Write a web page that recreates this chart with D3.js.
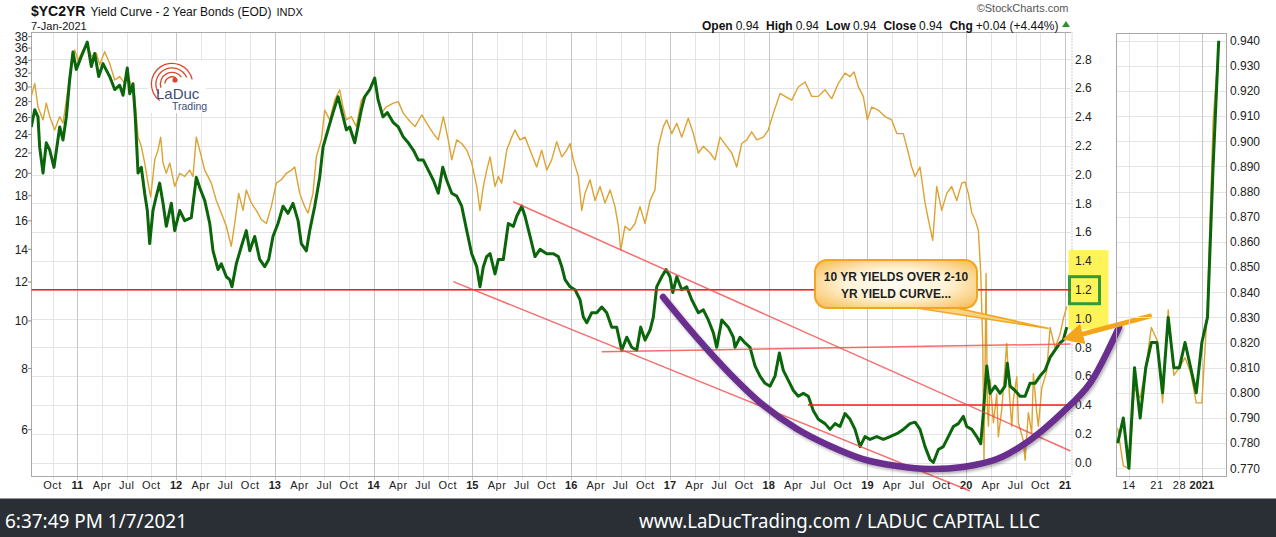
<!DOCTYPE html>
<html>
<head>
	<title>$YC2YR Yield Curve - 2 Year Bonds</title>
	<script src="https://d3js.org/d3.v7.min.js"></script>
	<style>
	body{
		margin: 0;
		background: #ffffff;
		font-family: "Liberation Sans", Arial, Helvetica, sans-serif;
	}
	.grid{ stroke: #e4e4e4; stroke-width: 1; shape-rendering: crispEdges; }
	.grid.year{ stroke: #c6c6c6; }
	.frame{ fill: none; stroke: #a9a9a9; shape-rendering: crispEdges; }
	.lbl{ font-size: 12px; fill: #222222; }
	.xlbl{ font-size: 11px; fill: #222222; letter-spacing: 0.5px; }
	.xlbl.year{ font-weight: bold; letter-spacing: 0; }
	.spread{ fill: none; stroke: #0b650b; stroke-width: 3; stroke-linejoin: round; }
	.tnx{ fill: none; stroke: #dca232; stroke-width: 1.4; stroke-linejoin: round; }
	.redline{ stroke: #ff1a1a; stroke-width: 1.5; }
	.redline.soft{ stroke: #f24a4a; stroke-opacity: 0.8; }
	.foot{ fill: #ffffff; font-family: "Noto Sans", "Open Sans", sans-serif; font-size: 20px; }
	</style>
</head>
<body>
	<div id="chart"></div>

	<script>
		// 2-10 spread ($YC2YR, right axis) - decimal year / value
		var spreadYears = [2010.534,2010.569,2010.602,2010.619,2010.653,2010.686,2010.721,2010.764,2010.822,2010.855,2010.889,2010.923,2010.956,2010.990,
			2011.041,2011.101,2011.142,2011.176,2011.217,2011.260,2011.328,2011.379,2011.429,2011.463,2011.506,2011.531,2011.564,2011.587,2011.615,2011.648,2011.682,2011.709,2011.733,2011.766,2011.800,2011.834,2011.868,2011.901,2011.952,2011.986,
			2012.037,2012.087,2012.154,2012.205,2012.239,2012.290,2012.341,2012.374,2012.425,2012.458,2012.509,2012.543,2012.566,2012.610,2012.661,2012.711,2012.746,2012.796,2012.847,2012.897,2012.938,2012.981,
			2013.032,2013.083,2013.133,2013.184,2013.235,2013.268,2013.319,2013.353,2013.404,2013.454,2013.488,2013.538,2013.589,2013.640,2013.673,2013.724,2013.758,2013.809,2013.876,2013.910,2013.961,
			2014.011,2014.045,2014.095,2014.139,2014.200,2014.250,2014.301,2014.351,2014.402,2014.453,2014.503,2014.554,2014.605,2014.655,2014.700,2014.740,2014.791,2014.842,2014.892,2014.943,2014.993,
			2015.044,2015.077,2015.111,2015.145,2015.179,2015.229,2015.263,2015.313,2015.364,2015.415,2015.449,2015.500,2015.533,2015.584,2015.634,2015.685,2015.753,2015.820,2015.870,2015.905,2015.938,2015.989,
			2016.039,2016.090,2016.123,2016.158,2016.208,2016.259,2016.310,2016.360,2016.411,2016.461,2016.512,2016.563,2016.613,2016.664,2016.704,2016.748,2016.799,2016.832,2016.866,2016.917,2016.961,
			2017.001,2017.029,2017.069,2017.120,2017.170,2017.221,2017.288,2017.338,2017.389,2017.440,2017.474,2017.525,2017.591,2017.642,2017.659,2017.710,2017.761,2017.811,2017.862,2017.912,2017.963,
			2018.014,2018.064,2018.108,2018.148,2018.199,2018.250,2018.300,2018.351,2018.401,2018.452,2018.503,2018.570,2018.621,2018.672,2018.722,2018.773,2018.824,2018.874,2018.925,2018.975,
			2019.026,2019.094,2019.161,2019.229,2019.297,2019.363,2019.431,2019.482,2019.532,2019.583,2019.634,2019.667,2019.718,2019.768,2019.819,2019.870,2019.920,2019.971,
			2020.005,2020.056,2020.106,2020.147,2020.173,2020.208,2020.241,2020.292,2020.342,2020.393,2020.416,2020.444,2020.494,2020.545,2020.596,2020.646,2020.697,2020.747,2020.798,2020.849,2020.899,2020.950,2020.983,2021.018];
		var spreadVals = [2.33,2.45,2.40,2.19,2.01,2.22,2.17,2.05,2.33,2.24,2.40,2.66,2.85,2.73,
			2.82,2.92,2.75,2.84,2.68,2.77,2.68,2.59,2.62,2.55,2.74,2.56,2.63,2.40,2.01,2.05,1.87,1.75,1.52,1.75,1.85,1.94,1.80,1.64,1.80,1.61,
			1.75,1.68,1.70,1.98,1.91,1.82,1.66,1.47,1.34,1.38,1.29,1.27,1.22,1.38,1.50,1.61,1.47,1.57,1.41,1.36,1.41,1.57,
			1.66,1.78,1.73,1.80,1.68,1.52,1.47,1.61,1.78,1.98,2.19,2.31,2.43,2.54,2.45,2.31,2.33,2.22,2.45,2.54,2.59,
			2.67,2.52,2.40,2.43,2.36,2.33,2.26,2.22,2.17,2.10,2.10,2.03,1.96,1.87,2.05,1.96,1.87,1.85,1.78,1.61,1.45,
			1.36,1.22,1.36,1.43,1.45,1.31,1.41,1.41,1.66,1.64,1.71,1.78,1.71,1.57,1.43,1.48,1.45,1.45,1.43,1.36,1.27,1.22,
			1.20,1.13,1.01,0.97,1.04,1.04,1.08,1.04,0.94,0.94,0.78,0.87,0.80,0.78,0.94,0.85,0.92,1.01,1.22,1.29,1.34,
			1.29,1.18,1.29,1.20,1.22,1.13,1.04,1.06,0.99,0.90,0.80,0.99,0.94,0.87,0.80,0.87,0.83,0.80,0.67,0.60,0.55,
			0.53,0.60,0.76,0.64,0.57,0.50,0.46,0.48,0.46,0.36,0.30,0.27,0.23,0.27,0.25,0.34,0.30,0.23,0.11,0.18,
			0.16,0.18,0.16,0.18,0.20,0.23,0.27,0.28,0.23,0.11,0.02,0.00,0.09,0.11,0.18,0.25,0.27,0.32,
			0.25,0.23,0.18,0.13,0.34,0.67,0.48,0.53,0.48,0.53,0.69,0.53,0.50,0.46,0.46,0.55,0.55,0.60,0.64,0.73,0.78,0.83,0.85,0.94];

		// 10 year yield x10 ($TNX, left log axis)
		var tnxYears = [2010.534,2010.569,2010.602,2010.653,2010.686,2010.721,2010.771,2010.822,2010.855,2010.899,2010.939,2010.974,
			2011.007,2011.058,2011.101,2011.142,2011.192,2011.227,2011.277,2011.328,2011.379,2011.429,2011.480,2011.513,2011.547,2011.581,2011.615,2011.648,2011.682,2011.716,2011.743,2011.784,2011.817,2011.844,2011.868,2011.901,2011.936,2011.986,
			2012.037,2012.087,2012.138,2012.171,2012.205,2012.239,2012.290,2012.357,2012.407,2012.458,2012.509,2012.559,2012.594,2012.634,2012.678,2012.711,2012.762,2012.812,2012.863,2012.914,2012.964,
			2013.015,2013.066,2013.116,2013.167,2013.201,2013.252,2013.302,2013.336,2013.386,2013.420,2013.471,2013.505,2013.556,2013.606,2013.657,2013.690,2013.724,2013.774,2013.825,2013.876,2013.926,2013.977,
			2014.011,2014.045,2014.078,2014.126,2014.200,2014.250,2014.301,2014.369,2014.419,2014.487,2014.538,2014.605,2014.655,2014.706,2014.756,2014.791,2014.842,2014.892,2014.943,2014.993,
			2015.044,2015.077,2015.111,2015.145,2015.179,2015.229,2015.263,2015.297,2015.348,2015.398,2015.432,2015.482,2015.533,2015.584,2015.651,2015.702,2015.753,2015.803,2015.854,2015.905,2015.955,2015.989,
			2016.022,2016.073,2016.107,2016.140,2016.191,2016.242,2016.292,2016.343,2016.394,2016.444,2016.478,2016.502,2016.545,2016.596,2016.647,2016.697,2016.748,2016.799,2016.849,2016.883,2016.933,2016.968,
			2017.018,2017.069,2017.120,2017.186,2017.237,2017.288,2017.338,2017.406,2017.457,2017.507,2017.575,2017.626,2017.676,2017.727,2017.778,2017.828,2017.879,2017.946,2017.996,
			2018.047,2018.115,2018.166,2018.233,2018.300,2018.368,2018.436,2018.503,2018.570,2018.638,2018.705,2018.773,2018.824,2018.864,2018.908,2018.958,2018.999,
			2019.043,2019.110,2019.178,2019.246,2019.297,2019.363,2019.414,2019.448,2019.482,2019.532,2019.583,2019.616,2019.661,2019.701,2019.752,2019.803,2019.853,2019.904,2019.955,2019.988,
			2020.021,2020.056,2020.089,2020.123,2020.147,2020.167,2020.180,2020.201,2020.214,2020.225,2020.241,2020.275,2020.309,2020.325,2020.360,2020.410,2020.437,2020.461,2020.477,2020.512,2020.528,2020.578,2020.596,2020.629,2020.663,2020.680,2020.714,2020.730,2020.765,2020.815,2020.849,2020.899,2020.950,2020.983,2021.018];
		var tnxVals = [28.7,30.5,27.3,25.7,27.8,26.1,24.5,26.1,25.3,29.1,33.5,35.7,
			34.0,35.7,36.8,34.6,35.2,33.3,35.4,33.5,31.0,31.5,30.5,32.0,30.0,28.7,23.7,22.7,21.0,19.1,17.9,21.3,22.3,23.7,21.0,20.0,21.0,18.8,
			20.0,19.7,20.3,19.7,23.7,22.3,20.3,19.1,17.6,16.6,15.6,14.2,15.8,18.2,16.8,18.5,17.4,16.8,16.1,15.8,17.1,
			19.1,19.4,20.0,20.3,20.6,18.2,17.1,16.6,18.2,21.6,23.4,26.9,25.7,28.2,29.6,27.3,25.7,26.1,24.9,28.2,29.1,30.0,
			31.0,28.2,26.5,27.3,27.8,28.0,26.5,25.5,24.9,26.3,25.3,24.1,23.4,26.1,23.4,21.3,23.4,23.0,22.3,21.0,
			18.8,16.8,18.8,20.3,21.6,18.8,19.7,19.1,22.3,23.7,24.5,23.4,23.7,22.3,20.6,22.3,20.3,21.3,23.2,21.6,22.3,23.0,
			21.3,19.7,16.8,18.2,19.4,17.6,18.8,17.4,18.5,17.1,15.6,13.95,15.6,15.3,15.8,17.1,15.8,17.6,18.5,22.7,24.9,25.7,
			24.1,25.3,23.7,25.9,24.1,22.0,22.7,22.0,21.3,23.7,22.7,22.0,20.6,23.0,23.4,24.3,23.4,23.7,24.5,
			26.5,29.1,28.7,28.2,30.0,30.7,28.7,28.7,29.6,28.4,30.5,32.0,31.5,32.2,30.0,28.7,25.7,
			27.3,26.9,26.1,25.7,24.1,24.1,22.0,20.6,19.7,20.6,17.4,16.1,14.6,18.8,16.8,18.2,18.8,17.6,19.1,19.2,
			18.2,16.6,16.1,15.3,12.5,9.0,5.2,12.5,6.6,6.1,7.6,6.2,7.1,5.8,6.6,9.0,7.1,6.1,6.9,7.7,6.2,5.7,5.2,6.5,5.9,7.8,6.5,6.1,7.3,7.9,9.7,8.8,9.4,10.1,10.7];

		// last month panel
		var recentDays = ['Dec 10','Dec 11','Dec 14','Dec 15','Dec 16','Dec 17','Dec 18','Dec 21','Dec 22','Dec 23','Dec 24',
			'Dec 28','Dec 29','Dec 30','Dec 31','Jan 4','Jan 5','Jan 6','Jan 7'];
		var recentSpread = [0.780,0.790,0.770,0.810,0.790,0.810,0.820,0.820,0.800,0.830,0.810,0.810,0.820,0.810,0.800,0.820,0.830,0.890,0.940];
		var recentTnx = [0.786,0.771,0.770,0.802,0.798,0.810,0.826,0.821,0.796,0.833,0.807,0.810,0.814,0.808,0.796,0.796,0.834,0.908,0.938];
		var recentLabels = {'Dec 14': '14', 'Dec 21': '21', 'Dec 28': '28', 'Jan 4': '2021'};

		// axis ticks
		var rightTicks = [0.0,0.2,0.4,0.6,0.8,1.0,1.2,1.4,1.6,1.8,2.0,2.2,2.4,2.6,2.8];
		var leftTicks = [6,8,10,12,14,16,18,20,22,24,26,28,30,32,34,36,38];
		var panelTicks = [0.770,0.780,0.790,0.800,0.810,0.820,0.830,0.840,0.850,0.860,0.870,0.880,0.890,0.900,0.910,0.920,0.930,0.940];
		var monthNames = ['', 'Apr', 'Jul', 'Oct'];

		var W = 1276, H = 537;
		var plot = {left: 31.5, right: 1070.5, top: 32.5, bottom: 476.5};
		var panel = {left: 1116.5, right: 1226.5, top: 33.5, bottom: 476.5};

		var svg = d3.select('#chart')
			.append('svg')
			.attr('width', W)
			.attr('height', H)
			.style('display', 'block');

		var x = d3.scaleLinear().domain([2011, 2021]).range([77.3, 1065]);
		var yR = d3.scaleLinear().domain([0, 2.8]).range([462.5, 59.3]);
		var yL = d3.scaleLog().domain([38, 6]).range([36.6, 429.7]);

		var xP = d3.scalePoint().domain(recentDays).range([1117.7, 1218.7]);
		var yP = d3.scaleLinear().domain([0.77, 0.94]).range([468.3, 40.7]);

		var spread = spreadYears.map(function(t, i){ return {t: t, v: spreadVals[i]}; });
		var tnx = tnxYears.map(function(t, i){ return {t: t, v: tnxVals[i]}; });

		var defs = svg.append('defs');
		defs.append('clipPath').attr('id', 'plotClip')
			.append('rect')
			.attr('x', plot.left).attr('y', plot.top)
			.attr('width', plot.right - plot.left).attr('height', plot.bottom - plot.top);

		var grad = defs.append('radialGradient').attr('id', 'calloutFill')
			.attr('cx', '50%').attr('cy', '50%').attr('r', '70%');
		grad.append('stop').attr('offset', '0%').attr('stop-color', '#fffdf4');
		grad.append('stop').attr('offset', '45%').attr('stop-color', '#fff3d6');
		grad.append('stop').attr('offset', '100%').attr('stop-color', '#f7b94a');

		var shadow = defs.append('filter').attr('id', 'shadow')
			.attr('x', '-10%').attr('y', '-10%').attr('width', '130%').attr('height', '130%');
		shadow.append('feDropShadow').attr('dx', 1.5).attr('dy', 2).attr('stdDeviation', 1.5)
			.attr('flood-color', '#000000').attr('flood-opacity', 0.3);

		defs.append('marker').attr('id', 'arrowHead')
			.attr('viewBox', '0 0 10 10').attr('refX', 2).attr('refY', 5)
			.attr('markerWidth', 4.2).attr('markerHeight', 4.2)
			.attr('orient', 'auto-start-reverse')
			.append('path').attr('d', 'M0,0 L10,5 L0,10 z').attr('fill', '#f5a51c');

		// ---------- main chart ----------
		var quarters = d3.range(2010.75, 2021.01, 0.25);

		svg.append('g').selectAll('line')
			.data(rightTicks)
			.enter().append('line')
			.attr('class', 'grid')
			.attr('x1', plot.left).attr('x2', plot.right)
			.attr('y1', function(d){ return Math.round(yR(d)) + 0.5; })
			.attr('y2', function(d){ return Math.round(yR(d)) + 0.5; });

		svg.append('g').selectAll('line')
			.data(quarters)
			.enter().append('line')
			.attr('class', function(d){ return Math.abs(d - Math.round(d)) < 0.01 ? 'grid year' : 'grid'; })
			.attr('x1', function(d){ return Math.round(x(d)) + 0.5; })
			.attr('x2', function(d){ return Math.round(x(d)) + 0.5; })
			.attr('y1', plot.top).attr('y2', plot.bottom + 3);

		// logo sits on a white patch over the grid
		var logo = svg.append('g');
		logo.append('rect').attr('x', 148).attr('y', 61).attr('width', 58).attr('height', 52).attr('fill', '#ffffff');
		var arcGen = d3.arc();
		[[20, -2.5, 1.35], [15.5, -2.2, 1.15], [11, -1.9, 0.95], [6.5, -1.5, 0.6]].forEach(function(a){
			logo.append('path')
				.attr('transform', 'translate(172,84)')
				.attr('d', arcGen({innerRadius: a[0], outerRadius: a[0] + 1.3, startAngle: a[1], endAngle: a[2]}))
				.attr('fill', '#d8482c');
		});
		logo.append('circle').attr('cx', 175).attr('cy', 80).attr('r', 2.6).attr('fill', '#d8482c');
		logo.append('text').attr('x', 156).attr('y', 99).attr('font-size', '15px').attr('fill', '#3e4d78').text('LaDuc');
		logo.append('text').attr('x', 172).attr('y', 109.5).attr('font-size', '10.5px').attr('fill', '#3e4d78').text('Trading');

		// frame
		svg.append('path').attr('class', 'frame')
			.attr('d', 'M' + plot.right + ',' + plot.top + 'H' + plot.left + 'V' + plot.bottom + 'H' + plot.right);
		svg.append('line')
			.attr('x1', plot.right + 1.5).attr('x2', plot.right + 1.5)
			.attr('y1', plot.top).attr('y2', plot.bottom)
			.attr('stroke', '#9a9a9a').attr('stroke-dasharray', '1,2');

		// highlight behind the right axis labels
		svg.append('rect')
			.attr('x', plot.right - 2).attr('y', yR(1.475))
			.attr('width', 40).attr('height', yR(0.925) - yR(1.475))
			.attr('fill', '#fff35a');

		// left axis (10 yr yield, log)
		svg.append('g').selectAll('line')
			.data(leftTicks)
			.enter().append('line')
			.attr('x1', plot.left - 3.5).attr('x2', plot.left)
			.attr('y1', function(d){ return yL(d); }).attr('y2', function(d){ return yL(d); })
			.attr('stroke', '#888888');
		svg.append('g').selectAll('text')
			.data(leftTicks)
			.enter().append('text')
			.attr('class', 'lbl')
			.attr('text-anchor', 'end')
			.attr('x', plot.left - 3.5)
			.attr('y', function(d){ return yL(d) + 4.3; })
			.text(function(d){ return d; });

		// right axis (spread)
		svg.append('g').selectAll('text')
			.data(rightTicks)
			.enter().append('text')
			.attr('class', 'lbl')
			.attr('x', plot.right + 4.5)
			.attr('y', function(d){ return yR(d) + 4.3; })
			.text(function(d){ return d.toFixed(1); });

		svg.append('rect')
			.attr('x', plot.right - 1).attr('y', yR(1.2) - 13)
			.attr('width', 30).attr('height', 27)
			.attr('fill', 'none').attr('stroke', '#2f9b3c').attr('stroke-width', 3);

		// x axis labels
		svg.append('g').selectAll('text')
			.data(quarters)
			.enter().append('text')
			.attr('class', function(d){ return Math.abs(d - Math.round(d)) < 0.01 ? 'xlbl year' : 'xlbl'; })
			.attr('text-anchor', 'middle')
			.attr('x', function(d){ return x(d); })
			.attr('y', 488.5)
			.text(function(d){
				var yr = Math.floor(d + 0.001), q = Math.round((d - yr) * 4);
				return q === 0 ? String(yr % 100).padStart(2, '0') : monthNames[q];
			});

		// data lines
		var lineR = d3.line().x(function(d){ return x(d.t); }).y(function(d){ return yR(d.v); });
		var lineL = d3.line().x(function(d){ return x(d.t); }).y(function(d){ return yL(d.v); });

		var data = svg.append('g').attr('clip-path', 'url(#plotClip)');
		data.append('path').datum(tnx).attr('class', 'tnx').attr('d', lineL);
		data.append('path').datum(spread).attr('class', 'spread').attr('d', lineR);

		// trend lines drawn on the chart (start year, start value, end year, end value)
		var trendLines = [
			{t0: 2010.534, v0: 1.2, t1: 2021.06, v1: 1.2, soft: false},
			{t0: 2018.398, v0: 0.4, t1: 2021.06, v1: 0.4, soft: false},
			{t0: 2016.310, v0: 0.769, t1: 2021.06, v1: 0.823, soft: true},
			{t0: 2015.414, v0: 1.811, t1: 2021.06, v1: 0.08, soft: true},
			{t0: 2014.807, v0: 1.256, t1: 2020.039, v1: -0.198, soft: true}
		];
		svg.append('g').selectAll('line')
			.data(trendLines)
			.enter().append('line')
			.attr('class', function(d){ return d.soft ? 'redline soft' : 'redline'; })
			.attr('x1', function(d){ return Math.max(plot.left, x(d.t0)); })
			.attr('y1', function(d){ return yR(d.v0); })
			.attr('x2', function(d){ return Math.min(plot.right, x(d.t1)); })
			.attr('y2', function(d){ return yR(d.v1); });

		// purple "bowl"
		var bowl = [[2016.930, 1.149], [2017.275, 0.865], [2017.609, 0.615], [2017.943, 0.399], [2018.287, 0.233],
			[2018.621, 0.115], [2018.955, 0.024], [2019.300, -0.024], [2019.634, -0.045], [2019.968, -0.031],
			[2020.312, 0.024], [2020.646, 0.156], [2020.980, 0.351], [2021.254, 0.552], [2021.547, 0.941]];
		svg.append('path')
			.datum(bowl)
			.attr('d', d3.line().x(function(d){ return x(d[0]); }).y(function(d){ return yR(d[1]); }).curve(d3.curveCatmullRom))
			.attr('fill', 'none').attr('stroke', '#6a2d8f').attr('stroke-width', 6.5)
			.attr('stroke-linecap', 'round').attr('filter', 'url(#shadow)');

		// callout
		var lastPt = spread[spread.length - 1];
		var box = {t0: 2018.469, t1: 2020.109, v0: 1.406, v1: 1.073};
		svg.append('path')
			.attr('d', 'M' + x(2019.30) + ',' + (yR(box.v1) - 3) +
				'L' + (x(lastPt.t) - 18) + ',' + yR(0.931) +
				'L' + x(2019.765) + ',' + (yR(box.v1) - 3) + 'Z')
			.attr('fill', '#fbd28a').attr('stroke', '#f2a61e').attr('stroke-width', 1.5);
		svg.append('rect')
			.attr('x', x(box.t0)).attr('y', yR(box.v0))
			.attr('width', x(box.t1) - x(box.t0)).attr('height', yR(box.v1) - yR(box.v0))
			.attr('rx', 12).attr('ry', 12)
			.attr('fill', 'url(#calloutFill)').attr('stroke', '#f2a61e').attr('stroke-width', 2);
		var cx = (x(box.t0) + x(box.t1)) / 2;
		svg.append('text').attr('x', cx).attr('y', yR(box.v0) + 20.5)
			.attr('text-anchor', 'middle').attr('font-size', '12px').attr('font-weight', 'bold').attr('fill', '#1e1e1e')
			.text('10 YR YIELDS OVER 2-10');
		svg.append('text').attr('x', cx).attr('y', yR(box.v0) + 37.5)
			.attr('text-anchor', 'middle').attr('font-size', '12px').attr('font-weight', 'bold').attr('fill', '#1e1e1e')
			.text('YR YIELD CURVE...');

		// orange arrow pointing at the last close
		svg.append('line')
			.attr('x1', x(lastPt.t) + 85).attr('y1', yR(1.02))
			.attr('x2', x(lastPt.t) + 12).attr('y2', yR(0.885))
			.attr('stroke', '#f5a51c').attr('stroke-width', 5)
			.attr('marker-end', 'url(#arrowHead)');

		// ---------- last month panel ----------
		svg.append('g').selectAll('line')
			.data(panelTicks)
			.enter().append('line')
			.attr('class', 'grid')
			.attr('x1', panel.left).attr('x2', panel.right)
			.attr('y1', function(d){ return Math.round(yP(d)) + 0.5; })
			.attr('y2', function(d){ return Math.round(yP(d)) + 0.5; });
		svg.append('g').selectAll('line')
			.data(Object.keys(recentLabels))
			.enter().append('line')
			.attr('class', function(d){ return d === 'Jan 4' ? 'grid year' : 'grid'; })
			.attr('x1', function(d){ return Math.round(xP(d)) + 0.5; })
			.attr('x2', function(d){ return Math.round(xP(d)) + 0.5; })
			.attr('y1', panel.top).attr('y2', panel.bottom + 3);
		svg.append('rect').attr('class', 'frame')
			.attr('x', panel.left).attr('y', panel.top)
			.attr('width', panel.right - panel.left).attr('height', panel.bottom - panel.top);

		svg.append('g').selectAll('text')
			.data(panelTicks)
			.enter().append('text')
			.attr('class', 'lbl')
			.attr('x', panel.right + 3.5)
			.attr('y', function(d){ return yP(d) + 4.3; })
			.text(function(d){ return d.toFixed(3); });
		svg.append('g').selectAll('text')
			.data(Object.keys(recentLabels))
			.enter().append('text')
			.attr('class', function(d){ return d === 'Jan 4' ? 'xlbl year' : 'xlbl'; })
			.attr('text-anchor', 'middle')
			.attr('x', function(d){ return xP(d); })
			.attr('y', 488.5)
			.text(function(d){ return recentLabels[d]; });

		var lineP = d3.line().x(function(d){ return xP(d.day); }).y(function(d){ return yP(d.v); });
		svg.append('path')
			.datum(recentDays.map(function(d, i){ return {day: d, v: recentTnx[i]}; }))
			.attr('class', 'tnx').attr('d', lineP);
		svg.append('path')
			.datum(recentDays.map(function(d, i){ return {day: d, v: recentSpread[i]}; }))
			.attr('class', 'spread').attr('d', lineP);

		// ---------- header ----------
		var title = svg.append('text').attr('x', 31).attr('y', 16).attr('fill', '#111111');
		title.append('tspan').attr('font-size', '14px').attr('font-weight', 'bold').text('$YC2YR');
		title.append('tspan').attr('font-size', '12px').attr('dx', 5).text('Yield Curve - 2 Year Bonds (EOD)');
		title.append('tspan').attr('font-size', '11px').attr('dx', 5).text('INDX');
		svg.append('text').attr('x', 31).attr('y', 30).attr('font-size', '11px').attr('fill', '#111111').text('7-Jan-2021');

		svg.append('text').attr('x', plot.right - 2).attr('y', 12).attr('text-anchor', 'end')
			.attr('font-size', '11px').attr('fill', '#555555').text('\u00A9StockCharts.com');

		var ohlc = svg.append('text').attr('x', plot.right - 12).attr('y', 30).attr('text-anchor', 'end')
			.attr('font-size', '12px').attr('fill', '#111111');
		[['Open', '0.94'], ['High', '0.94'], ['Low', '0.94'], ['Close', '0.94'], ['Chg', '+0.04 (+4.44%)']].forEach(function(p, i){
			ohlc.append('tspan').attr('font-weight', 'bold').attr('dx', i === 0 ? 0 : 7).text(p[0]);
			ohlc.append('tspan').attr('dx', 3).text(p[1]);
		});
		svg.append('path')
			.attr('d', 'M' + (plot.right - 8.5) + ',' + 27 + 'l4,-6 l4,6 z')
			.attr('fill', '#2f8f2f');

		// ---------- footer ----------
		svg.append('rect').attr('x', 0).attr('y', 498.5).attr('width', W).attr('height', H - 498.5).attr('fill', '#2a2f36');
		svg.append('text').attr('class', 'foot').attr('x', 5).attr('y', 527.5)
			.attr('textLength', 182).attr('lengthAdjust', 'spacingAndGlyphs')
			.text('6:37:49 PM 1/7/2021');
		svg.append('text').attr('class', 'foot').attr('x', 639).attr('y', 527.5)
			.attr('textLength', 401).attr('lengthAdjust', 'spacingAndGlyphs')
			.text('www.LaDucTrading.com / LADUC CAPITAL LLC');
	</script>
</body>
</html>
